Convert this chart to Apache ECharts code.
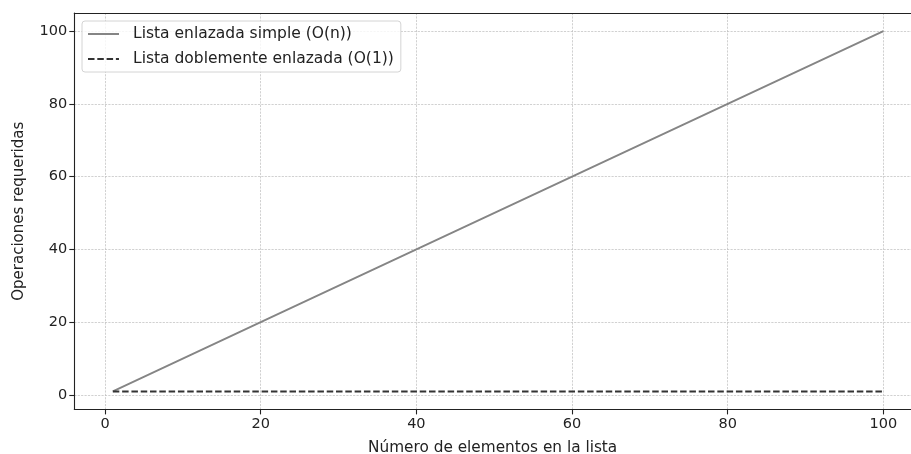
<!DOCTYPE html>
<html>
<head>
<meta charset="utf-8">
<script src="https://cdn.jsdelivr.net/npm/echarts@6/dist/echarts.min.js"></script>
<style>
  html, body { margin: 0; padding: 0; background: #fff; }
  #chart { width: 911px; height: 454px; }
</style>
</head>
<body>
<div id="chart"></div>
<script>
// Number of list elements (x) and the operations each kind of list needs
const elementCounts = [1, 20, 40, 60, 80, 100];
const simpleListOps = [1, 20, 40, 60, 80, 100];
const doublyListOps = [1, 1, 1, 1, 1, 1];

const xTicks = [0, 20, 40, 60, 80, 100];
const yTicks = [0, 20, 40, 60, 80, 100];

const seriesNames = ['Lista enlazada simple (O(n))', 'Lista doblemente enlazada (O(1))'];

const FONT = 'DejaVu Sans';
const INK = '#222';

const pairs = (xs, ys) => xs.map((x, i) => [x, ys[i]]);

const gridLine = { show: true, lineStyle: { color: '#bdbdbd', width: 0.7, type: [2.2, 1.2] } };
const axisLineStyle = { show: true, onZero: false, lineStyle: { color: INK, width: 1.1 } };
const tickStyle = ticks => ({ show: true, inside: false, length: 5, lineStyle: { color: INK, width: 1.1 }, customValues: ticks });
const labelStyle = ticks => ({ fontFamily: FONT, fontSize: 14.5, color: INK, margin: 7, customValues: ticks });

// x range runs a little past the right edge of the canvas
const X_MIN = -3.95, X_MAX = 103.55;
const Y_MIN = -3.95, Y_MAX = 104.95;

const chart = echarts.init(document.getElementById('chart'), null, { renderer: 'canvas' });
chart.setOption({
  animation: false,
  backgroundColor: '#fff',
  textStyle: { fontFamily: FONT },
  grid: { left: 74.3, right: 0, top: 13, bottom: 44.6, show: false, containLabel: false, outerBoundsMode: 'none' },
  legend: {
    orient: 'vertical',
    left: 82, top: 21,
    padding: [5, 7, 5, 5],
    itemGap: 9,
    itemWidth: 31, itemHeight: 16,
    backgroundColor: 'rgba(255,255,255,0.8)',
    borderColor: '#d4d4d4', borderWidth: 1, borderRadius: 3,
    itemStyle: { opacity: 0 },
    textStyle: { fontFamily: FONT, fontSize: 15.5, color: INK, padding: [0, 0, 0, 9] },
    data: seriesNames.map(n => ({ name: n }))
  },
  xAxis: [
    {
      type: 'value',
      min: X_MIN, max: X_MAX,
      name: 'Número de elementos en la lista',
      nameLocation: 'middle', nameGap: 31,
      nameTextStyle: { fontFamily: FONT, fontSize: 15.3, color: INK },
      axisLine: axisLineStyle,
      axisTick: tickStyle(xTicks),
      axisLabel: labelStyle(xTicks),
      splitLine: gridLine
    },
    {
      // top frame line
      type: 'value',
      position: 'top',
      min: X_MIN, max: X_MAX,
      axisLine: axisLineStyle,
      axisTick: { show: false },
      axisLabel: { show: false },
      splitLine: { show: false }
    }
  ],
  yAxis: {
    type: 'value',
    min: Y_MIN, max: Y_MAX,
    name: 'Operaciones requeridas',
    nameLocation: 'middle', nameGap: 48,
    nameTextStyle: { fontFamily: FONT, fontSize: 15, color: INK },
    axisLine: axisLineStyle,
    axisTick: tickStyle(yTicks),
    axisLabel: labelStyle(yTicks),
    splitLine: gridLine
  },
  series: [
    {
      name: seriesNames[0],
      type: 'line',
      data: pairs(elementCounts, simpleListOps),
      symbol: 'none',
      color: '#858585',
      lineStyle: { color: '#858585', width: 1.9 }
    },
    {
      name: seriesNames[1],
      type: 'line',
      data: pairs(elementCounts, doublyListOps),
      symbol: 'none',
      color: '#333',
      lineStyle: { color: '#333', width: 2, type: [6.5, 2.8] }
    }
  ]
});
</script>
</body>
</html>
